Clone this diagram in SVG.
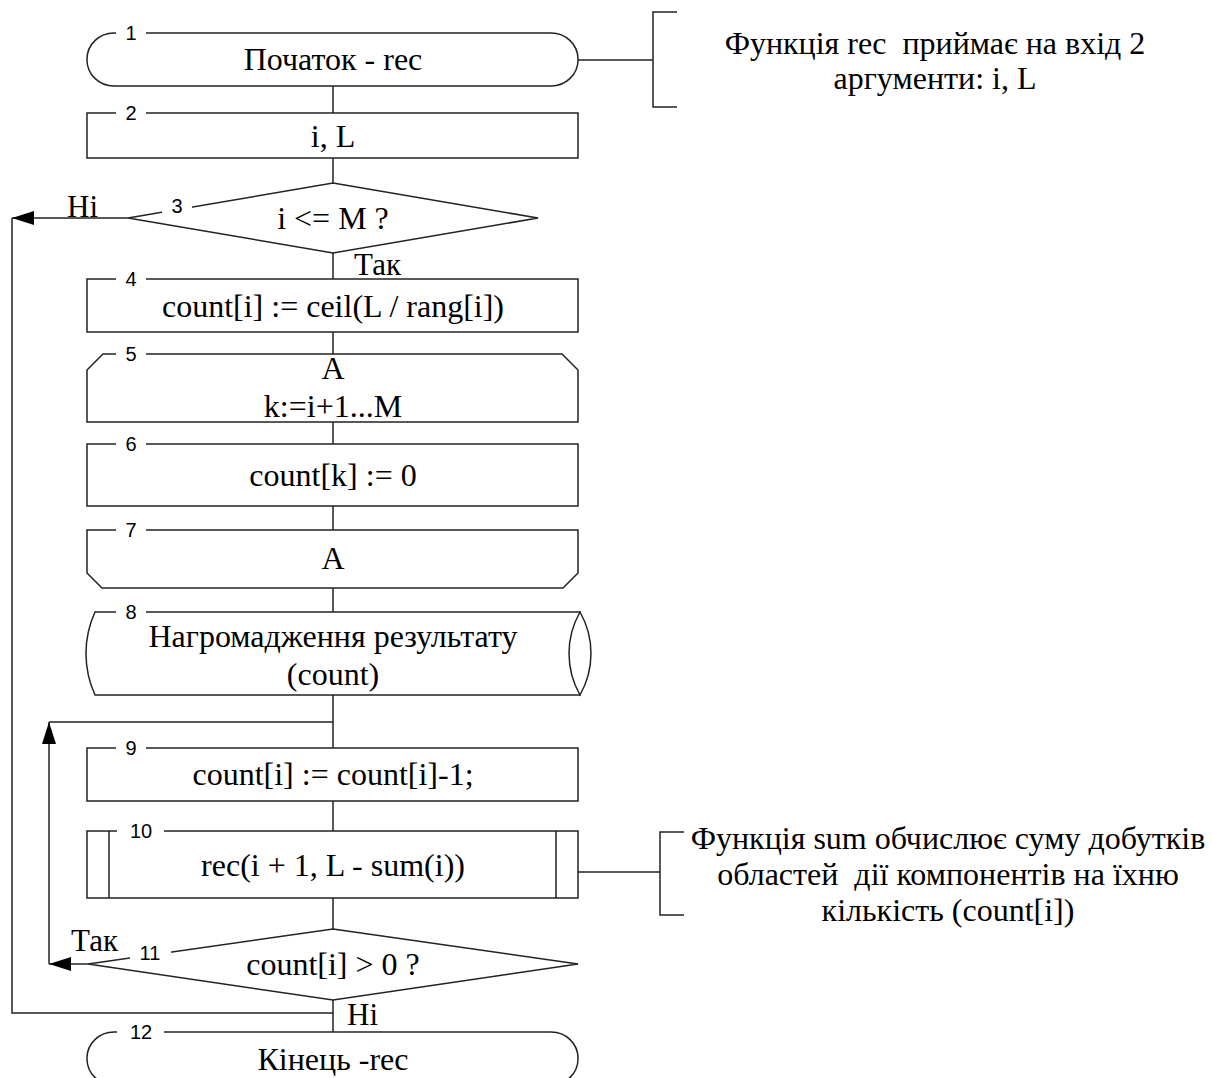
<svg xmlns="http://www.w3.org/2000/svg" width="1212" height="1078" viewBox="0 0 1212 1078">
  <style>
    .shape { fill: #fff; stroke: #222; stroke-width: 1.5; }
    .line { fill: none; stroke: #222; stroke-width: 1.5; }
    .txt { font-family: "Liberation Serif", "Times New Roman", serif; font-size: 32px; fill: #000; text-anchor: middle; white-space: pre; }
    .lbl { font-family: "Liberation Serif", "Times New Roman", serif; font-size: 31px; fill: #000; }
    .num { font-family: "Liberation Sans", Arial, sans-serif; font-size: 20px; fill: #000; text-anchor: middle; }
    .gap { fill: #fff; stroke: none; }
  </style>
  <defs>
    <marker id="arrow" viewBox="0 0 22 14" refX="22" refY="7" markerWidth="22" markerHeight="14" markerUnits="userSpaceOnUse" orient="auto">
      <path d="M0,0 L22,7 L0,14 Z" fill="#000"/>
    </marker>
  </defs>

  <!-- connectors -->
  <g id="connectors">
    <path class="line" d="M333,86 V113"/>
    <path class="line" d="M333,158 V183"/>
    <path class="line" d="M333,253 V279"/>
    <path class="line" d="M333,332 V354"/>
    <path class="line" d="M333,422 V444"/>
    <path class="line" d="M333,506 V530"/>
    <path class="line" d="M333,588 V612"/>
    <path class="line" d="M333,695 V748"/>
    <path class="line" d="M333,801 V831"/>
    <path class="line" d="M333,898 V929"/>
    <path class="line" d="M333,1000 V1032"/>
    <!-- "no" exit of the loop condition -->
    <path class="line" d="M128,218 H12" marker-end="url(#arrow)"/>
    <path class="line" d="M12,218 V1013 H333"/>
    <!-- "yes" branch back to the loop body -->
    <path class="line" d="M88,964 H49" marker-end="url(#arrow)"/>
    <path class="line" d="M49,964 V722" marker-end="url(#arrow)"/>
    <path class="line" d="M49,722 H333"/>
    <!-- comment links -->
    <path class="line" d="M578,60 H653"/>
    <path class="line" d="M578,872 H660"/>
    <text class="lbl" x="67" y="217">Ні</text>
    <text class="lbl" x="354" y="275">Так</text>
    <text class="lbl" x="71" y="951">Так</text>
    <text class="lbl" x="347" y="1025">Ні</text>
  </g>

  <g id="node1">
    <rect class="shape" x="87" y="33" width="491" height="53" rx="27" ry="26"/>
    <rect class="gap" x="116" y="28" width="30" height="10"/>
    <text class="num" x="131" y="40">1</text>
    <text class="txt" x="333" y="70">Початок - rec</text>
  </g>

  <g id="node2">
    <rect class="shape" x="87" y="113" width="491" height="45"/>
    <rect class="gap" x="116" y="108" width="30" height="10"/>
    <text class="num" x="131" y="120">2</text>
    <text class="txt" x="333" y="147">i, L</text>
  </g>

  <g id="node3">
    <polygon class="shape" points="333,183 538,218 333,253 128,218"/>
    <rect class="gap" x="162" y="199" width="30" height="16"/>
    <text class="num" x="177" y="213">3</text>
    <text class="txt" x="333" y="229">i &lt;= M ?</text>
  </g>

  <g id="node4">
    <rect class="shape" x="87" y="279" width="491" height="53"/>
    <rect class="gap" x="116" y="274" width="30" height="10"/>
    <text class="num" x="131" y="286">4</text>
    <text class="txt" x="333" y="317">count[i] := ceil(L / rang[i])</text>
  </g>

  <g id="node5">
    <path class="shape" d="M87,422 V370 L103,354 H562 L578,370 V422 Z"/>
    <rect class="gap" x="116" y="349" width="30" height="10"/>
    <text class="num" x="131" y="361">5</text>
    <text class="txt" x="333" y="379">A</text>
    <text class="txt" x="333" y="417">k:=i+1...M</text>
  </g>

  <g id="node6">
    <rect class="shape" x="87" y="444" width="491" height="62"/>
    <rect class="gap" x="116" y="439" width="30" height="10"/>
    <text class="num" x="131" y="451">6</text>
    <text class="txt" x="333" y="486">count[k] := 0</text>
  </g>

  <g id="node7">
    <path class="shape" d="M87,530 H578 V573 L563,588 H102 L87,573 Z"/>
    <rect class="gap" x="116" y="525" width="30" height="10"/>
    <text class="num" x="131" y="537">7</text>
    <text class="txt" x="333" y="569">A</text>
  </g>

  <g id="node8">
    <path class="shape" d="M95,612 H580 V695 H95 A100,100 0 0 1 95,612 Z"/>
    <path class="shape" d="M580,612 A84,84 0 0 0 580,695 A84,84 0 0 0 580,612 Z"/>
    <rect class="gap" x="116" y="607" width="30" height="10"/>
    <text class="num" x="131" y="619">8</text>
    <text class="txt" x="333" y="647">Нагромадження результату</text>
    <text class="txt" x="333" y="685">(count)</text>
  </g>

  <g id="node9">
    <rect class="shape" x="87" y="748" width="491" height="53"/>
    <rect class="gap" x="116" y="743" width="30" height="10"/>
    <text class="num" x="131" y="755">9</text>
    <text class="txt" x="333" y="785">count[i] := count[i]-1;</text>
  </g>

  <g id="node10">
    <rect class="shape" x="87" y="831" width="491" height="67"/>
    <path class="line" d="M109,831 V898 M556,831 V898"/>
    <rect class="gap" x="117" y="826" width="47" height="10"/>
    <text class="num" x="141" y="838">10</text>
    <text class="txt" x="333" y="876">rec(i + 1, L - sum(i))</text>
  </g>

  <g id="node11">
    <polygon class="shape" points="333,929 578,964 333,1000 88,964"/>
    <rect class="gap" x="130" y="943" width="41" height="17"/>
    <text class="num" x="150" y="960">11</text>
    <text class="txt" x="333" y="975">count[i] &gt; 0 ?</text>
  </g>

  <g id="node12">
    <rect class="shape" x="87" y="1032" width="491" height="53" rx="27" ry="26"/>
    <rect class="gap" x="117" y="1027" width="47" height="10"/>
    <text class="num" x="141" y="1039">12</text>
    <text class="txt" x="333" y="1070">Кінець -rec</text>
  </g>

  <g id="comment1">
    <path class="line" d="M677,12 H653 V107 H677"/>
    <text class="txt" x="935" y="54">Функція rec  приймає на вхід 2</text>
    <text class="txt" x="935" y="89">аргументи: i, L</text>
  </g>

  <g id="comment2">
    <path class="line" d="M684,832 H660 V915 H684"/>
    <text class="txt" x="948" y="849">Функція sum обчислює суму добутків</text>
    <text class="txt" x="948" y="885">областей  дії компонентів на їхню</text>
    <text class="txt" x="948" y="921">кількість (count[i])</text>
  </g>
</svg>
